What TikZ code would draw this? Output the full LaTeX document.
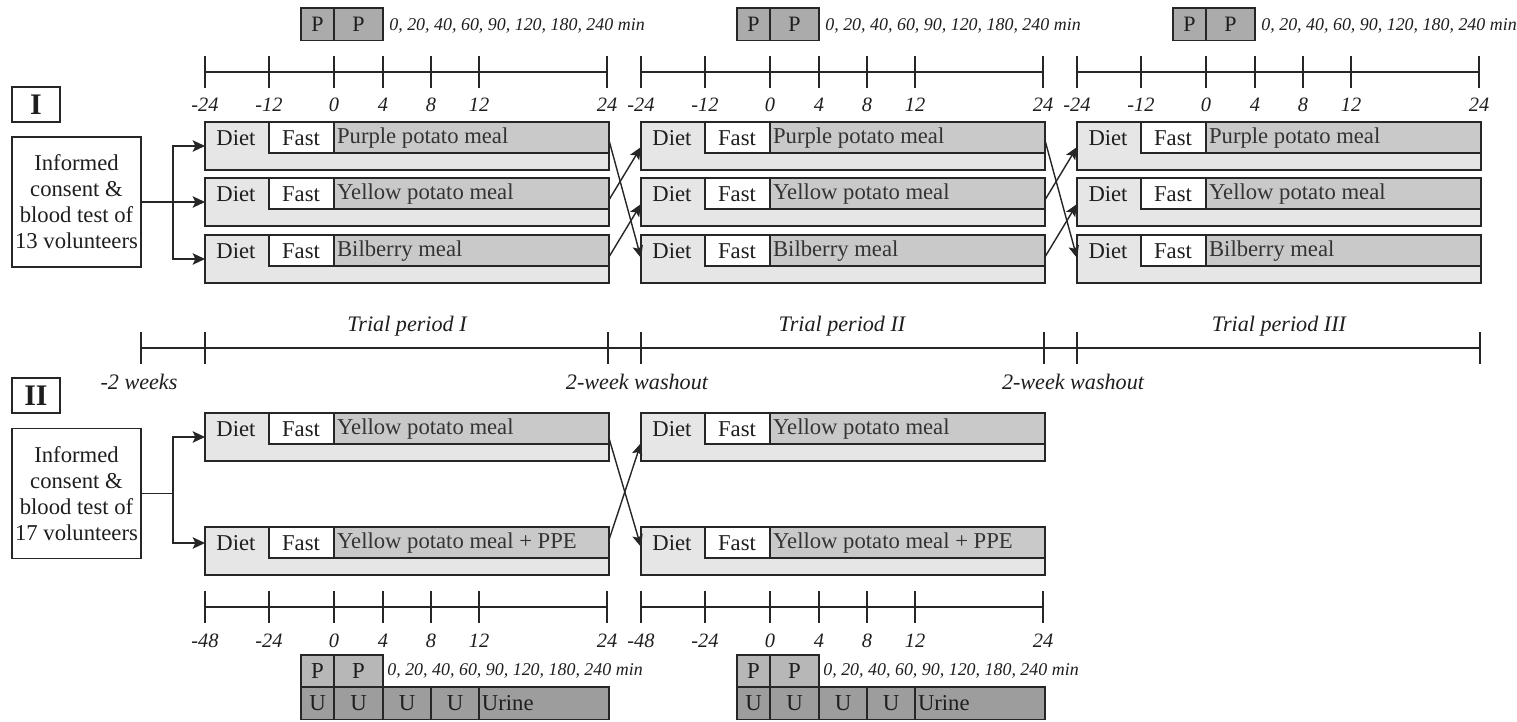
\documentclass[tikz,border=0pt]{standalone}
\usepackage{fontspec}
\setmainfont{Liberation Serif}
\usetikzlibrary{arrows.meta}
\definecolor{lg}{HTML}{E6E6E6}
\definecolor{mg}{HTML}{C9C9C9}
\definecolor{pg}{HTML}{ABABAB}
\definecolor{pgb}{HTML}{B7B7B7}
\definecolor{ug}{HTML}{9D9D9D}
\definecolor{lc}{HTML}{262626}
\definecolor{tc}{HTML}{1E1E1E}
\definecolor{mtc}{HTML}{333333}

\newcommand\mealrow[4]{%
  \fill[lg] (#2,#3) rectangle (#2+404,#3+48);
  \fill[white] (#2+64,#3) rectangle (#2+129,#3+31);
  \fill[mg] (#2+129,#3) rectangle (#2+404,#3+31);
  \draw[innerln] (#2+64,#3) -- (#2+64,#3+31) -- (#2+404,#3+31) (#2+129,#3) -- (#2+129,#3+31);
  \node[rowbox] (#1) at (#2,#3) {};
  \node[lbl] (#1d) at (#2+31,#3+16) {Diet};
  \node[lbl] (#1f) at (#2+96,#3+16) {Fast};
  \node[lbl,anchor=west,text=mtc] (#1m) at (#2+130,#3+16) {#4};
}
\newcommand\timeline[5]{%
  \draw[tlln] (#2,#3) -- (#2+402,#3);
  \foreach \o/\l [count=\i] in {#5}{%
    \draw[tlln] (#2+\o,#3-16) -- (#2+\o,#3+16);
    \node[tick] (#1\i) at (#2+\o,#4) {\l};}%
}
\newcommand\pboxes[5]{%
  \node[pbx, fill=#4, font=#5, minimum width=0.66cm] (#1a) at (#2+96,#3) {P};
  \node[pbx, fill=#4, font=#5, minimum width=0.98cm] (#1b) at (#2+129,#3) {P};
}
\newcommand\uboxes[3]{%
  \node[pbx, fill=ug, minimum width=0.66cm] (#1a) at (#2+96,#3) {U};
  \node[pbx, fill=ug, minimum width=0.98cm] (#1b) at (#2+129,#3) {U};
  \node[pbx, fill=ug, minimum width=0.96cm] (#1c) at (#2+178,#3) {U};
  \node[pbx, fill=ug, minimum width=0.96cm] (#1d) at (#2+226,#3) {U};
  \node[pbx, fill=ug, minimum width=2.6cm] (#1e) at (#2+274,#3) {};
  \node[lbl, anchor=west, inner sep=1.5pt] (#1t) at (#1e.west) {Urine};
}

\begin{document}
\begin{tikzpicture}[x=0.02cm,y=-0.02cm,
  innerln/.style={draw=lc, line width=1pt},
  rowbox/.style={draw=lc, line width=1.1pt, anchor=north west, minimum width=8.08cm, minimum height=0.96cm, inner sep=0pt, outer sep=0pt},
  lbl/.style={font=\fontsize{12.9}{14.8}\selectfont, text=tc, inner sep=1pt},
  tlln/.style={draw=lc, line width=0.9pt},
  tick/.style={font=\itshape\fontsize{11.6}{12}\selectfont, text=tc, inner sep=0pt},
  pbx/.style={draw=lc, line width=1pt, anchor=north west, minimum height=0.65cm, inner sep=0pt, outer sep=0pt, font=\fontsize{13}{13}\selectfont, text=tc},
  mins/.style={font=\itshape\fontsize{10.2}{11}\selectfont, text=tc, inner sep=0pt, anchor=west},
  per/.style={font=\itshape\fontsize{12.6}{13}\selectfont, text=tc, inner sep=0pt},
  infobox/.style={draw=lc, line width=1.1pt, minimum width=2.58cm, minimum height=2.6cm, align=center, inner sep=0pt, font=\fontsize{12.9}{14.8}\selectfont, text=tc},
  romanbox/.style={draw=lc, line width=1.1pt, minimum width=0.96cm, minimum height=0.7cm, inner sep=0pt, font=\bfseries\fontsize{17}{17}\selectfont, text=tc},
  link/.style={draw=lc, line width=1pt},
  arr/.style={draw=lc, line width=1pt, -{Stealth[length=7pt,width=6.5pt,inset=1.5pt]}},
  xarr/.style={draw=lc, line width=0.8pt, -{Stealth[length=7pt,width=6pt,inset=1.5pt]}}
]
\useasboundingbox (0,0) rectangle (1517,721);
\fill[white] (0,0) rectangle (1517,721);

% ---------- Section I ----------
\pboxes{pA}{205}{8}{pg}{\fontsize{12.5}{12.5}\selectfont}
\pboxes{pB}{641}{8}{pg}{\fontsize{12.5}{12.5}\selectfont}
\pboxes{pC}{1077}{8}{pg}{\fontsize{12.5}{12.5}\selectfont}
\node[mins] (mA) at (389,26) {0, 20, 40, 60, 90, 120, 180, 240 min};
\node[mins] (mB) at (825,26) {0, 20, 40, 60, 90, 120, 180, 240 min};
\node[mins] (mC) at (1261,26) {0, 20, 40, 60, 90, 120, 180, 240 min};

\timeline{tA}{205}{72}{105}{0/-24,64/-12,129/0,178/4,226/8,274/12,402/24}
\timeline{tB}{641}{72}{105}{0/-24,64/-12,129/0,178/4,226/8,274/12,402/24}
\timeline{tC}{1077}{72}{105}{0/-24,64/-12,129/0,178/4,226/8,274/12,402/24}

\node[romanbox] (rI) at (36,104.5) {I};

\mealrow{a1}{205}{122}{Purple potato meal}
\mealrow{a2}{205}{178}{Yellow potato meal}
\mealrow{a3}{205}{235}{Bilberry meal}
\mealrow{b1}{641}{122}{Purple potato meal}
\mealrow{b2}{641}{178}{Yellow potato meal}
\mealrow{b3}{641}{235}{Bilberry meal}
\mealrow{c1}{1077}{122}{Purple potato meal}
\mealrow{c2}{1077}{178}{Yellow potato meal}
\mealrow{c3}{1077}{235}{Bilberry meal}

\node[infobox] (inf1) at (76.5,202) {Informed\\consent \&\\blood test of\\13 volunteers};
\draw[link] (inf1.east) -- (173,202) coordinate (brI);
\draw[arr] (brI) |- (a1.west);
\draw[arr] (inf1.east) -- (a2.west);
\draw[arr] (brI) |- (a3.west);

\draw[xarr] ([yshift=-0.36cm]a1.north east) -- ([yshift=-0.46cm]b3.north west);
\draw[xarr] ([yshift=-0.44cm]a2.north east) -- ([yshift=-0.5cm]b1.north west);
\draw[xarr] ([yshift=-0.44cm]a3.north east) -- ([yshift=-0.52cm]b2.north west);
\draw[xarr] ([yshift=-0.36cm]b1.north east) -- ([yshift=-0.46cm]c3.north west);
\draw[xarr] ([yshift=-0.44cm]b2.north east) -- ([yshift=-0.5cm]c1.north west);
\draw[xarr] ([yshift=-0.44cm]b3.north east) -- ([yshift=-0.52cm]c2.north west);

% ---------- Trial periods ----------
\draw[tlln] (141,348) -- (1480,348);
\foreach \xx in {141,205,608,641,1044,1077,1480}{\draw[tlln] (\xx,332) -- (\xx,364);}
\node[per] (tp1) at (407,326) {Trial period I};
\node[per] (tp2) at (842,326) {Trial period II};
\node[per] (tp3) at (1279,326) {Trial period III};
\node[per] (w0) at (139,382) {-2 weeks};
\node[per] (w1) at (637,382) {2-week washout};
\node[per] (w2) at (1073,382) {2-week washout};

% ---------- Section II ----------
\node[romanbox] (rII) at (36,395.5) {II};
\mealrow{d1}{205}{413}{Yellow potato meal}
\mealrow{d2}{205}{527}{Yellow potato meal + PPE}
\mealrow{e1}{641}{413}{Yellow potato meal}
\mealrow{e2}{641}{527}{Yellow potato meal + PPE}

\node[infobox] (inf2) at (76.5,493.5) {Informed\\consent \&\\blood test of\\17 volunteers};
\draw[link] (inf2.east) -- (173,493.5) coordinate (brII);
\draw[arr] (brII) |- (d1.west);
\draw[arr] (brII) |- ([yshift=0.16cm]d2.west);

\draw[xarr] ([yshift=-0.5cm]d1.north east) -- ([yshift=-0.4cm]e2.north west);
\draw[xarr] ([yshift=-0.26cm]d2.north east) -- ([yshift=-0.6cm]e1.north west);

\timeline{tD}{205}{607}{641}{0/-48,64/-24,129/0,178/4,226/8,274/12,402/24}
\timeline{tE}{641}{607}{641}{0/-48,64/-24,129/0,178/4,226/8,274/12,402/24}

\pboxes{pD}{205}{655}{pgb}{\fontsize{13}{13}\selectfont}
\pboxes{pE}{641}{655}{pgb}{\fontsize{13}{13}\selectfont}
\node[mins] (mD) at (387,671) {0, 20, 40, 60, 90, 120, 180, 240 min};
\node[mins] (mE) at (823,671) {0, 20, 40, 60, 90, 120, 180, 240 min};
\uboxes{uD}{205}{687}
\uboxes{uE}{641}{687}
\end{tikzpicture}
\end{document}
